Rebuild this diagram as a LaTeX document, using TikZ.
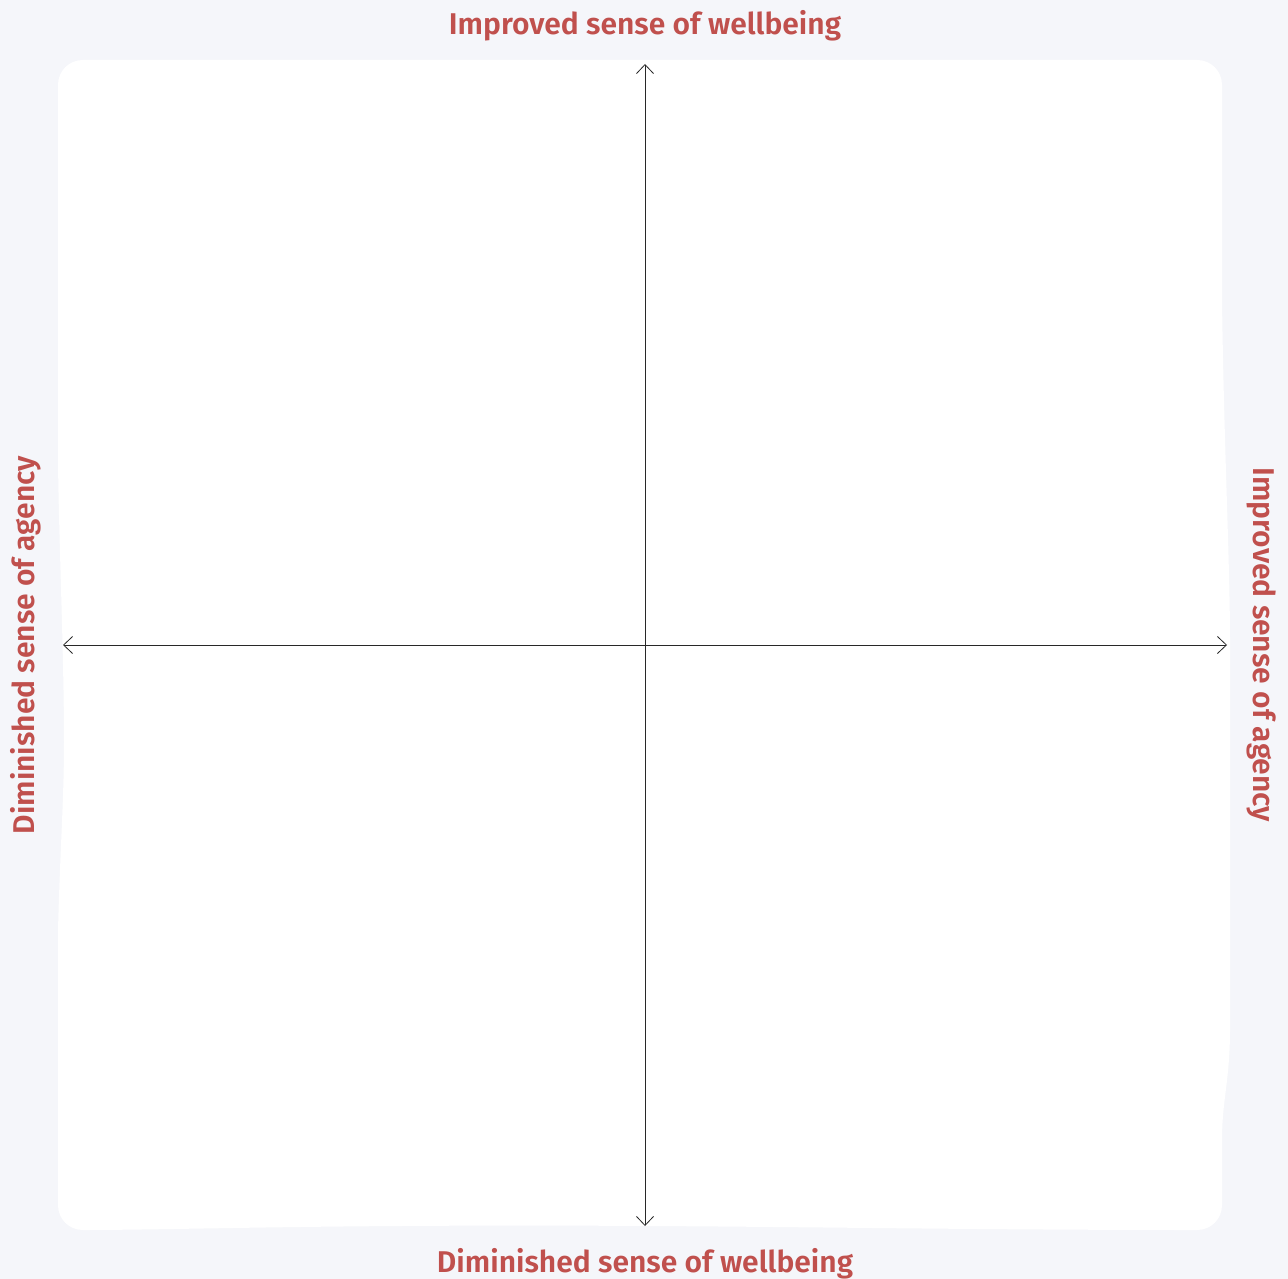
\documentclass[tikz,border=0pt]{standalone}
\usepackage{fontspec}
\newfontfamily\labfont{Fira Sans SemiBold}
\usetikzlibrary{arrows.meta}
\definecolor{bgcol}{RGB}{245,246,250}
\definecolor{labcol}{RGB}{192,80,77}
\definecolor{axcol}{RGB}{40,40,40}
\tikzset{
  axisline/.style={draw=axcol, line width=0.8pt, {Straight Barb[length=9pt,width=17pt]}-{Straight Barb[length=9pt,width=17pt]}},
  axlabel/.style={text=labcol, font=\labfont\fontsize{30}{36}\selectfont, inner sep=0pt}
}
\begin{document}
\begin{tikzpicture}[x=1pt,y=-1pt]
\useasboundingbox (0,0) rectangle (1288,1279);
\fill[bgcol] (0,0) rectangle (1288,1279);
% white panel with slightly hand-drawn edges
\fill[white] (83,60) -- (1197,60)
  .. controls (1211,60) and (1222,71) .. (1222,85)
  -- (1222,300) .. controls (1224,450) and (1230,560) .. (1230,644)
  -- (1230,1029) .. controls (1230,1080) and (1222,1100) .. (1222,1140)
  -- (1222,1205)
  .. controls (1222,1219) and (1211,1230) .. (1197,1230)
  .. controls (900,1230) and (700,1224) .. (400,1226)
  .. controls (250,1227) and (150,1230) .. (83,1230)
  .. controls (69,1230) and (58,1219) .. (58,1205)
  -- (58,931) .. controls (60,850) and (64,800) .. (64,742)
  .. controls (64,650) and (58,520) .. (58,450)
  -- (58,85)
  .. controls (58,71) and (69,60) .. (83,60) -- cycle;
% axis ends
\coordinate (top) at (645,64);
\coordinate (bottom) at (645,1226);
\coordinate (left) at (63,645);
\coordinate (right) at (1227,645);
\draw[axisline] (bottom) -- (top);
\draw[axisline] (left) -- (right);
% labels
\node[axlabel] (lt) at (645,26) {Improved sense of wellbeing};
\node[axlabel] (lb) at (645,1264) {Diminished sense of wellbeing};
\node[axlabel, rotate=90] (ll) at (26,645) {Diminished sense of agency};
\node[axlabel, rotate=-90] (lr) at (1262,645) {Improved sense of agency};
\end{tikzpicture}
\end{document}
